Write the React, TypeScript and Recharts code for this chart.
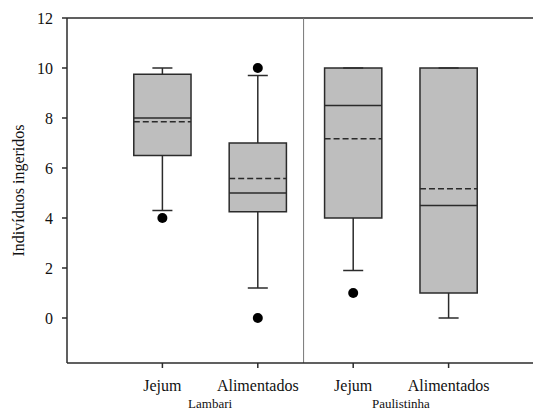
import React from "react";
import {
  ComposedChart,
  XAxis,
  YAxis,
  Scatter,
  ReferenceArea,
  ReferenceLine,
} from "recharts";

// box plot values
const categories = ["Jejum", "Alimentados", "Jejum", "Alimentados"];
const groups = ["Lambari", "Paulistinha"];
const positions = [1, 2, 3, 4];
const groupPositions = [1.5, 3.5];
const q1 = [6.5, 4.25, 4.0, 1.0];
const median = [8.0, 5.0, 8.5, 4.5];
const q3 = [9.75, 7.0, 10, 10];
const mean = [7.85, 5.58, 7.17, 5.17];
const whiskerLow = [4.3, 1.2, 1.9, 0];
const whiskerHigh = [10, 9.7, 10, 10];
const outlierPos = [1, 2, 2, 3];
const outlierValues = [4, 10, 0, 1];
const yTicks = [0, 2, 4, 6, 8, 10, 12];

const outliers = outlierPos.map((x, i) => ({ x, y: outlierValues[i] }));
const groupAnchors = groupPositions.map((x) => ({ x, y: 0 }));

const FONT = "'Liberation Serif', 'DejaVu Serif', serif";
const INK = "#2b2b2b";
const BOX_HALF = 0.3;
const CAP_HALF = 0.105;

const Dot = (props: any) => (
  <circle cx={props.cx} cy={props.cy} r={5} fill="#000" />
);

const Nothing = () => <g />;

export default function App() {
  return (
    <div
      style={{
        position: "absolute",
        left: 0,
        top: 0,
        width: 533,
        height: 410,
        overflow: "hidden",
        background: "#fff",
        fontFamily: FONT,
      }}
    >
      <ComposedChart
        width={544}
        height={425}
        margin={{ top: 18, right: 0, left: 0, bottom: 2 }}
        style={{ fontFamily: FONT }}
      >
        <XAxis
          type="number"
          dataKey="x"
          domain={[0, 5]}
          ticks={positions}
          tickFormatter={(v: number) => categories[v - 1]}
          tickSize={5}
          tickMargin={12}
          height={30}
          interval={0}
          stroke={INK}
          strokeWidth={1.5}
          tick={{ fill: "#111", fontSize: 16, fontFamily: FONT }}
        />
        <XAxis
          xAxisId="group"
          type="number"
          dataKey="x"
          domain={[0, 5]}
          ticks={groupPositions}
          tickFormatter={(v: number) => groups[groupPositions.indexOf(v)]}
          axisLine={false}
          tickLine={false}
          tickSize={0}
          tickMargin={6}
          height={30}
          interval={0}
          tick={{ fill: "#111", fontSize: 13, fontFamily: FONT }}
        />
        <YAxis
          type="number"
          domain={[-1.8, 12]}
          ticks={yTicks}
          width={67}
          tickSize={5}
          tickMargin={9}
          interval={0}
          stroke={INK}
          strokeWidth={1.5}
          tick={{ fill: "#111", fontSize: 16, fontFamily: FONT }}
          label={{
            content: (p: any) => {
              const vb = p.viewBox;
              const x = vb.x + 24;
              const y = vb.y + vb.height / 2;
              return (
                <text
                  x={x}
                  y={y}
                  transform={`rotate(-90 ${x} ${y})`}
                  textAnchor="middle"
                  fontFamily={FONT}
                  fontSize={16}
                  fill="#111"
                >
                  Indivíduos ingeridos
                </text>
              );
            },
          }}
        />

        {/* frame: top line and group divider */}
        <ReferenceLine y={12} stroke={INK} strokeWidth={1.5} />
        <ReferenceLine x={2.48} stroke="#777" strokeWidth={1} />

        {/* whiskers */}
        {positions.map((p, i) => (
          <ReferenceLine
            key={"wu" + i}
            segment={[
              { x: p, y: q3[i] },
              { x: p, y: whiskerHigh[i] },
            ]}
            stroke={INK}
            strokeWidth={1.5}
          />
        ))}
        {positions.map((p, i) => (
          <ReferenceLine
            key={"wl" + i}
            segment={[
              { x: p, y: whiskerLow[i] },
              { x: p, y: q1[i] },
            ]}
            stroke={INK}
            strokeWidth={1.5}
          />
        ))}
        {positions.map((p, i) => (
          <ReferenceLine
            key={"cu" + i}
            segment={[
              { x: p - CAP_HALF, y: whiskerHigh[i] },
              { x: p + CAP_HALF, y: whiskerHigh[i] },
            ]}
            stroke={INK}
            strokeWidth={1.5}
          />
        ))}
        {positions.map((p, i) => (
          <ReferenceLine
            key={"cl" + i}
            segment={[
              { x: p - CAP_HALF, y: whiskerLow[i] },
              { x: p + CAP_HALF, y: whiskerLow[i] },
            ]}
            stroke={INK}
            strokeWidth={1.5}
          />
        ))}

        {/* boxes */}
        {positions.map((p, i) => (
          <ReferenceArea
            key={"b" + i}
            x1={p - BOX_HALF}
            x2={p + BOX_HALF}
            y1={q1[i]}
            y2={q3[i]}
            fill="#bebebe"
            fillOpacity={1}
            stroke={INK}
            strokeWidth={1.5}
          />
        ))}
        {positions.map((p, i) => (
          <ReferenceLine
            key={"m" + i}
            segment={[
              { x: p - BOX_HALF, y: median[i] },
              { x: p + BOX_HALF, y: median[i] },
            ]}
            stroke={INK}
            strokeWidth={1.5}
          />
        ))}
        {positions.map((p, i) => (
          <ReferenceLine
            key={"mn" + i}
            segment={[
              { x: p - BOX_HALF, y: mean[i] },
              { x: p + BOX_HALF, y: mean[i] },
            ]}
            stroke={INK}
            strokeWidth={1.5}
            strokeDasharray="6 3"
          />
        ))}

        <Scatter data={outliers} dataKey="y" shape={Dot} isAnimationActive={false} />
        <Scatter
          data={groupAnchors}
          dataKey="y"
          xAxisId="group"
          shape={Nothing}
          isAnimationActive={false}
        />
      </ComposedChart>
    </div>
  );
}
